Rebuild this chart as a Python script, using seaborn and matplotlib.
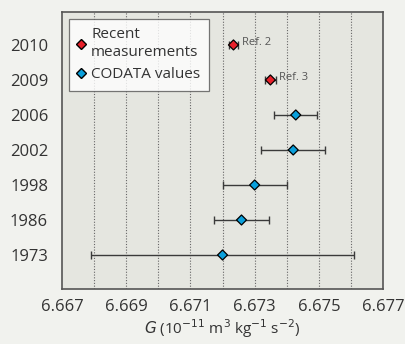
import numpy as np
import pandas as pd
import matplotlib
matplotlib.use("Agg")
import matplotlib.pyplot as plt
import seaborn as sns
from matplotlib.lines import Line2D

# 数据
years = ["2010", "2009", "2006", "2002", "1998", "1986", "1973"]
g_values = [6.67234, 6.67349, 6.67428, 6.6742, 6.673, 6.67259, 6.6720]
g_errors = [0.00014, 0.00018, 0.00067, 0.0010, 0.0010, 0.00085, 0.0041]
groups = ["Recent measurements", "Recent measurements", "CODATA values", "CODATA values",
          "CODATA values", "CODATA values", "CODATA values"]
ref_labels = ["Ref. 2", "Ref. 3", "", "", "", "", ""]

df = pd.DataFrame({"year": years, "G": g_values, "err": g_errors, "group": groups})

sns.set_style("white")
plt.rcParams['font.family'] = ['Open Sans', 'DejaVu Sans']

fig = plt.figure(figsize=(4.05, 3.44), dpi=100, facecolor="#f1f2ee")
ax = fig.add_axes([0.153, 0.160, 0.793, 0.805])
ax.set_facecolor("#e5e6e0")

# 误差棒
ax.errorbar(df["G"], df["year"], xerr=df["err"], fmt="none", ecolor="#3a3a3a",
            elinewidth=1.0, capsize=3, capthick=1.0, zorder=2)

palette = {"Recent measurements": "#e8202a", "CODATA values": "#0aa0dc"}
sns.scatterplot(data=df, x="G", y="year", hue="group", palette=palette, marker="D",
                s=26, edgecolor="black", linewidth=0.9, legend=False, zorder=3, ax=ax)

for yr, g, lab in zip(years, g_values, ref_labels):
    if lab:
        ax.annotate(lab, (g, yr), xytext=(6, 2), textcoords="offset points",
                    fontsize=8, color="#555555", va="center")

ax.set_xlim(6.667, 6.677)
ax.set_ylim(6.97, -0.94)
ax.set_xticks(np.arange(6.667, 6.6771, 0.002))
ax.set_xticklabels(["6.667", "6.669", "6.671", "6.673", "6.675", "6.677"])
ax.set_xticks(np.arange(6.668, 6.6771, 0.002), minor=True)
ax.tick_params(axis="x", which="both", direction="out", length=3, width=1, color="#555555",
               labelsize=12, labelcolor="#333333", pad=4)
ax.tick_params(axis="y", length=0, labelsize=12, labelcolor="#333333", pad=10)

for v in np.arange(6.668, 6.6765, 0.001):
    ax.axvline(v, color="#666666", linestyle=(0, (1, 1.5)), linewidth=0.8, zorder=1)

for sp in ax.spines.values():
    sp.set_color("#555555")
    sp.set_linewidth(1.2)

ax.set_xlabel("$G$ (10$^{-11}$ m$^3$ kg$^{-1}$ s$^{-2}$)", fontsize=11, color="#333333", labelpad=2)
ax.set_ylabel("")

handles = [
    Line2D([], [], marker="D", linestyle="none", markerfacecolor="#e8202a",
           markeredgecolor="black", markersize=5),
    Line2D([], [], marker="D", linestyle="none", markerfacecolor="#0aa0dc",
           markeredgecolor="black", markersize=5),
]
leg = ax.legend(handles, ["Recent\nmeasurements", "CODATA values"], loc="upper left",
                bbox_to_anchor=(0.022, 0.975), fontsize=11, frameon=True, fancybox=False,
                handlelength=0.5, handletextpad=0.4, borderpad=0.55, labelspacing=0.5,
                borderaxespad=0)
leg.get_frame().set_edgecolor("#555555")
leg.get_frame().set_linewidth(0.9)
for t in leg.get_texts():
    t.set_color("#333333")

fig.savefig("out.png", dpi=100, facecolor=fig.get_facecolor())
